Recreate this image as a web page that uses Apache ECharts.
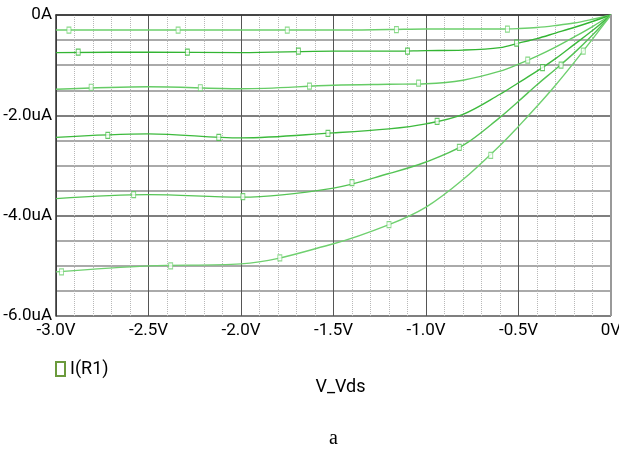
<!DOCTYPE html>
<html>
<head>
<meta charset="utf-8">
<title>I(R1) vs V_Vds</title>
<script src="https://cdn.jsdelivr.net/npm/echarts@6/dist/echarts.min.js"></script>
<style>
    html, body {margin: 0; padding: 0; background: #fff;}
    #chart {width: 619px; height: 451px;}
</style>
</head>
<body>
<div id="chart"></div>
<script>
// Vds sweep points (V)
var vds = [-3.0, -2.5, -2.0, -1.5, -1.2, -1.0, -0.8, -0.6, -0.5, -0.4, -0.3, -0.2, -0.1, 0];

// I(R1) in uA, one array per gate step
var curve1 = [-0.30, -0.30, -0.30, -0.30, -0.29, -0.28, -0.28, -0.28, -0.27, -0.25, -0.21, -0.16, -0.085, 0];
var curve2 = [-0.75, -0.74, -0.75, -0.72, -0.72, -0.71, -0.70, -0.65, -0.56, -0.47, -0.36, -0.25, -0.13, 0];
var curve3 = [-1.48, -1.43, -1.47, -1.40, -1.38, -1.37, -1.30, -1.12, -0.98, -0.82, -0.64, -0.44, -0.23, 0];
var curve4 = [-2.44, -2.37, -2.45, -2.35, -2.27, -2.17, -1.98, -1.58, -1.35, -1.12, -0.87, -0.59, -0.31, 0];
var curve5 = [-3.66, -3.58, -3.63, -3.45, -3.16, -2.93, -2.60, -2.04, -1.72, -1.39, -1.08, -0.76, -0.40, 0];
var curve6 = [-5.12, -5.00, -4.96, -4.56, -4.18, -3.83, -3.28, -2.60, -2.22, -1.82, -1.40, -0.95, -0.48, 0];

// trace markers (small squares) as PSpice puts them on each trace
var markV1 = [-2.93, -2.34, -1.75, -1.16, -0.56];
var markI1 = [-0.30, -0.30, -0.30, -0.29, -0.28];
var markV2 = [-2.88, -2.29, -1.69, -1.10, -0.51];
var markI2 = [-0.74, -0.74, -0.72, -0.72, -0.56];
var markV3 = [-2.81, -2.22, -1.63, -1.04, -0.45];
var markI3 = [-1.44, -1.45, -1.42, -1.36, -0.90];
var markV4 = [-2.72, -2.12, -1.53, -0.94, -0.37];
var markI4 = [-2.40, -2.44, -2.36, -2.12, -1.05];
var markV5 = [-2.58, -1.99, -1.40, -0.82, -0.27];
var markI5 = [-3.58, -3.62, -3.34, -2.64, -1.00];
var markV6 = [-2.97, -2.38, -1.79, -1.20, -0.65, -0.15];
var markI6 = [-5.12, -5.00, -4.84, -4.18, -2.80, -0.72];

var curves = [curve1, curve2, curve3, curve4, curve5, curve6];
var markV = [markV1, markV2, markV3, markV4, markV5, markV6];
var markI = [markI1, markI2, markI3, markI4, markI5, markI6];
var traceColors = ['#6ccf6c', '#33b533', '#66cc66', '#3dba3d', '#55c455', '#6fd06f'];

var labelFont = "Roboto, 'Liberation Sans', sans-serif";

function zip(xs, ys) {
    var out = [];
    for (var i = 0; i < xs.length; i++) {
        out.push([xs[i], ys[i]]);
    }
    return out;
}

function buildSeries() {
    var series = [];
    for (var i = 0; i < curves.length; i++) {
        series.push({
            name: 'I(R1)',
            type: 'line',
            data: zip(vds, curves[i]),
            smooth: 0.35,
            showSymbol: false,
            lineStyle: {color: traceColors[i], width: 1.4},
            itemStyle: {color: 'transparent', borderColor: '#6b9a3c', borderWidth: 1.2},
            silent: true,
            z: 3
        });
        series.push({
            type: 'scatter',
            data: zip(markV[i], markI[i]),
            symbol: 'rect',
            symbolSize: [4, 6],
            itemStyle: {color: '#fff', borderColor: traceColors[i], borderWidth: 1},
            silent: true,
            z: 4
        });
    }
    return series;
}

var myChart = echarts.init(document.getElementById('chart'));
var option = {
    animation: false,
    title: {
        text: 'a',
        left: 324,
        top: 424,
        textStyle: {fontFamily: "'Liberation Serif', 'DejaVu Serif', serif", fontWeight: 'normal', fontSize: 20, color: '#000'}
    },
    legend: {
        data: ['I(R1)'],
        left: 50,
        top: 355,
        icon: 'rect',
        itemWidth: 9,
        itemHeight: 14,
        itemGap: 4,
        textStyle: {fontFamily: labelFont, fontSize: 18, color: '#000'},
        selectedMode: false
    },
    grid: {left: 56, right: 8, top: 15, bottom: 135, containLabel: false, outerBoundsMode: 'none'},
    xAxis: {
        type: 'value',
        min: -3,
        max: 0,
        interval: 0.5,
        name: 'V_Vds',
        nameLocation: 'middle',
        nameGap: 62,
        nameTextStyle: {fontFamily: labelFont, fontSize: 18, color: '#000', padding: [0, 0, 0, 14]},
        axisLine: {show: true, lineStyle: {color: '#333', width: 1.5}},
        axisTick: {show: false},
        axisLabel: {
            margin: 6,
            fontFamily: labelFont,
            fontSize: 17,
            color: '#000',
            formatter: function (v) {
                if (v === 0) return '0V';
                return v.toFixed(1) + 'V';
            }
        },
        splitLine: {show: true, lineStyle: {color: '#555', width: 1}},
        minorTick: {show: false, splitNumber: 5},
        minorSplitLine: {show: true, lineStyle: {color: '#b8b8b8', width: 1, type: [1, 1]}}
    },
    yAxis: {
        type: 'value',
        min: -6,
        max: 0,
        interval: 2,
        axisLine: {show: true, onZero: false, lineStyle: {color: '#333', width: 1.5}},
        axisTick: {show: false},
        axisLabel: {
            margin: 4,
            fontFamily: labelFont,
            fontSize: 17,
            color: '#000',
            formatter: function (v) {
                if (v === 0) return '0A';
                return v.toFixed(1) + 'uA';
            }
        },
        splitLine: {show: true, lineStyle: {color: '#555', width: 1.5}},
        minorTick: {show: false, splitNumber: 4},
        minorSplitLine: {show: true, lineStyle: {color: '#aaa', width: 2}}
    },
    graphic: [
        {
            type: 'line',
            shape: {x1: 611, y1: 15, x2: 611, y2: 316},
            style: {stroke: '#999', lineWidth: 2},
            z: 10
        }
    ],
    series: buildSeries()
};
myChart.setOption(option);
</script>
</body>
</html>
